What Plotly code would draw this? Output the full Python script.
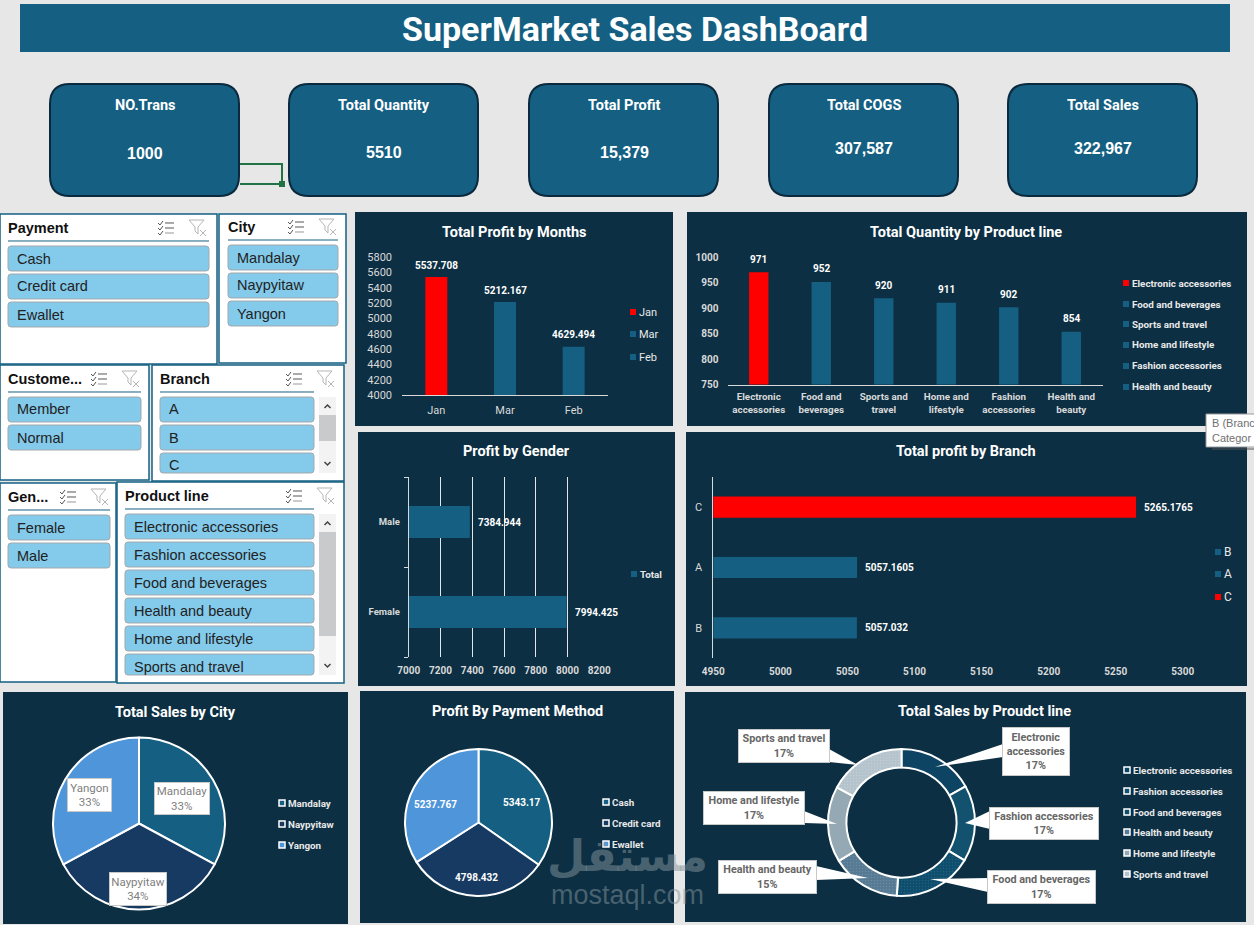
import plotly.graph_objects as go

W, H = 1254, 925
PAGE = "#e7e7e7"
PANEL = "#0c2f43"
BLUE = "#156082"
RED = "#ff0000"
AXIS = "#d9d9d9"
BTN = "#83caeb"
FONT = "Roboto"
SANS = "Liberation Sans"

KPI_TITLES = ["NO.Trans", "Total Quantity", "Total Profit", "Total COGS", "Total Sales"]
KPI_VALUES = ["1000", "5510", "15,379", "307,587", "322,967"]

PAYMENTS = ["Cash", "Credit card", "Ewallet"]
CITIES = ["Mandalay", "Naypyitaw", "Yangon"]
CUSTOMERS = ["Member", "Normal"]
BRANCH_LIST = ["A", "B", "C"]
GENDER_LIST = ["Female", "Male"]
PRODUCT_LIST = ["Electronic accessories", "Fashion accessories", "Food and beverages",
                "Health and beauty", "Home and lifestyle", "Sports and travel"]

MONTHS = ["Jan", "Mar", "Feb"]
MONTH_PROFIT = [5537.708, 5212.167, 4629.494]

QTY_LINES = ["Electronic accessories", "Food and beverages", "Sports and travel",
             "Home and lifestyle", "Fashion accessories", "Health and beauty"]
QTY_TICKS = ["Electronic<br>accessories", "Food and<br>beverages", "Sports and<br>travel",
             "Home and<br>lifestyle", "Fashion<br>accessories", "Health and<br>beauty"]
QTY_VALUES = [971, 952, 920, 911, 902, 854]

GENDERS = ["Female", "Male"]
GENDER_PROFIT = [7994.425, 7384.944]

BRANCHES = ["B", "A", "C"]
BRANCH_PROFIT = [5057.032, 5057.1605, 5265.1765]
BRANCH_LEGEND = ["B", "A", "C"]

CITY_SALES = [106198, 110569, 106200]
PAYMENT_PROFIT = [5343.17, 4798.432, 5237.767]
PRODUCT_SALES = [54338, 54306, 56145, 49194, 53862, 55123]

PIE_COLORS = ["#156082", "#163a62", "#4e95d9"]
DONUT_COLORS = ["#0d4463", "#12526f", "#0f4d6c", "#567a93", "#94a9b3", "#b4c3cc"]
DONUT_DOTS = ["#0d4463", "#12526f", "#215f7f", "#6d8ca1", "#94a9b3", "#c2ced5"]


def X(v):
    return v / W


def Y(v):
    return 1 - v / H


shapes = []
notes = []


def rect(x0, y0, x1, y1, fill, line=None, lw=1, layer="below"):
    shapes.append(dict(type="rect", xref="paper", yref="paper", x0=X(x0), x1=X(x1), y0=Y(y0), y1=Y(y1),
                       fillcolor=fill, line=dict(color=line or fill, width=lw if line else 0), layer=layer))


def path(points, line=None, lw=1, fill=None, closed=False, layer="below"):
    d = "M" + " L".join(f"{X(a):.5f},{Y(b):.5f}" for a, b in points) + (" Z" if closed else "")
    shapes.append(dict(type="path", xref="paper", yref="paper", path=d, fillcolor=fill,
                       line=dict(color=line or "rgba(0,0,0,0)", width=lw), layer=layer))


def rounded(x0, y0, x1, y1, r, fill, line, lw=1):
    p = (f"M{X(x0 + r):.5f},{Y(y0):.5f} L{X(x1 - r):.5f},{Y(y0):.5f} Q{X(x1):.5f},{Y(y0):.5f} {X(x1):.5f},{Y(y0 + r):.5f} "
         f"L{X(x1):.5f},{Y(y1 - r):.5f} Q{X(x1):.5f},{Y(y1):.5f} {X(x1 - r):.5f},{Y(y1):.5f} "
         f"L{X(x0 + r):.5f},{Y(y1):.5f} Q{X(x0):.5f},{Y(y1):.5f} {X(x0):.5f},{Y(y1 - r):.5f} "
         f"L{X(x0):.5f},{Y(y0 + r):.5f} Q{X(x0):.5f},{Y(y0):.5f} {X(x0 + r):.5f},{Y(y0):.5f} Z")
    shapes.append(dict(type="path", xref="paper", yref="paper", path=p, fillcolor=fill,
                       line=dict(color=line, width=lw), layer="below"))


def text(x, y, s, size=11, color="white", bold=False, anchor="center", family=FONT, **kw):
    if anchor == "left":
        x -= 2  # annotation box has a little padding
    notes.append(dict(xref="paper", yref="paper", x=X(x), y=Y(y), text=s, showarrow=False, xanchor=anchor,
                      yanchor="middle", font=dict(size=size, color=color, family=family,
                                                  weight=700 if bold else 400), **kw))


def icons(xc, xf, cy):
    top = cy - 8
    for i in range(3):
        ry = top + 3 + i * 5
        path([(xc, ry), (xc + 2, ry + 2), (xc + 5, ry - 2)], line="#555555", lw=1)
        path([(xc + 7, ry), (xc + 16, ry)], line="#555555" if i < 2 else "#999999", lw=1)
    path([(xf, top), (xf + 15, top), (xf + 9, top + 7), (xf + 9, top + 14), (xf + 6, top + 11), (xf + 6, top + 7)],
         line="#b5b5b5", lw=1, closed=True)
    path([(xf + 11, top + 10), (xf + 17, top + 16)], line="#b5b5b5", lw=1)
    path([(xf + 17, top + 10), (xf + 11, top + 16)], line="#b5b5b5", lw=1)


def scrollbar(x0, x1, y0, y1, t0, t1):
    rect(x0, y0, x1, y1, "#f3f3f3")
    rect(x0, t0, x1, t1, "#c9cacc")
    m = (x0 + x1) / 2
    path([(m - 3, y0 + 11), (m, y0 + 8), (m + 3, y0 + 11)], line="#444444", lw=1.5)
    path([(m - 3, y1 - 11), (m, y1 - 8), (m + 3, y1 - 11)], line="#444444", lw=1.5)


def slicer(box, title, items, left, right, line_y, clip, xc, xf):
    rect(*box, "white", line=BLUE, lw=1.5)
    text(left, line_y - 13, title, size=14.5, color="#111111", bold=True, anchor="left", family=SANS)
    path([(left, line_y), (right, line_y)], line=BLUE, lw=1)
    icons(xc, xf, line_y - 13)
    for i, item in enumerate(items):
        top = line_y + 5 + i * 28
        rounded(left, top, right, min(top + 25, clip), 3, BTN, "#a3a8ab", 1)
        text(left + 9, top + 12.5, item, size=14.5, color="#222222", anchor="left", family=SANS)


def legend(x, ys, names, colors, size=9.8, bold=True, ring=False):
    for ly, name, col in zip(ys, names, colors):
        if ring:
            rect(x, ly - 3, x + 6, ly + 3, col, line="white", lw=1.5, layer="above")
        else:
            rect(x, ly - 3, x + 6, ly + 3, col)
        text(x + 9, ly, name, size=size, color="#e8e8e8", bold=bold, anchor="left")


def bar_color(values):
    return [RED if v == max(values) else BLUE for v in values]


def axis_font(bold=True, size=10):
    return dict(family=FONT, size=size, color=AXIS, weight=700 if bold else 400)


# page furniture
rect(0, 0, W, H, PAGE)
rect(20, 4, 1230, 52, BLUE)
text(635, 29, "SuperMarket Sales DashBoard", size=34, bold=True)

path([(240, 164), (282, 164), (282, 184), (240, 184)], line="#217346", lw=2)
rect(279, 181, 285, 187, "#217346")
card_x = [50, 289, 529, 769, 1008]
value_y = [154, 153, 153, 148, 148]
for cx, vy, title, val in zip(card_x, value_y, KPI_TITLES, KPI_VALUES):
    rounded(cx, 84, cx + 189, 196, 20, BLUE, "#0b2a3d", 2)
    text(cx + 95, 105.5, title, size=14.5, bold=True)
    text(cx + 95, vy, val, size=16, bold=True, family=SANS)

# slicers
slicer((0, 214, 217, 364), "Payment", PAYMENTS, 8, 209, 241, 400, 158, 189)
slicer((219, 214, 346, 363), "City", CITIES, 228, 338, 240, 400, 288, 319)
slicer((0, 365, 149, 480), "Custome...", CUSTOMERS, 8, 141, 392, 480, 91, 122)
slicer((152, 365, 344, 481), "Branch", BRANCH_LIST, 160, 314, 392, 473, 286, 317)
scrollbar(319, 336, 397, 473, 415, 441)
slicer((0, 483, 116, 682), "Gen...", GENDER_LIST, 8, 110, 510, 682, 60, 91)
slicer((117, 482, 344, 683), "Product line", PRODUCT_LIST, 125, 314, 509, 675, 286, 317)
scrollbar(319, 336, 514, 675, 532, 636)

# chart panels
rect(355, 212, 673, 426, PANEL)
rect(687, 212, 1247, 426, PANEL)
rect(358, 432, 675, 686, PANEL)
rect(686, 432, 1247, 686, PANEL)
rect(3, 692, 348, 924, PANEL)
rect(360, 691, 674, 923, PANEL)
rect(685, 692, 1246, 922, PANEL)

text(514, 232, "Total Profit by Months", size=14.5, bold=True)
text(966, 232, "Total Quantity by Product line", size=14.5, bold=True)
text(516, 451, "Profit by Gender", size=14.5, bold=True)
text(966, 451, "Total profit by Branch", size=14.5, bold=True)
text(175, 712, "Total Sales by City", size=14.5, bold=True)
text(517, 711, "Profit By Payment Method", size=14.5, bold=True)
text(984, 711, "Total Sales by Proudct line", size=14.5, bold=True)

legend(630, [312, 334, 357], MONTHS, bar_color(MONTH_PROFIT), size=11, bold=False)
legend(1123, [283, 304, 324, 345, 366, 387], QTY_LINES, bar_color(QTY_VALUES))
legend(631, [574], ["Total"], [BLUE])
legend(1215, [552, 574, 597], BRANCH_LEGEND, [BLUE, BLUE, RED], size=12, bold=False)
legend(279, [803, 824, 845], CITIES, PIE_COLORS, ring=True)
legend(603, [802, 823, 844], PAYMENTS, PIE_COLORS, ring=True)
legend(1124, [770, 791, 812, 832, 853, 874], PRODUCT_LIST, DONUT_COLORS, ring=True)

fig = go.Figure()

fig.add_trace(go.Bar(x=MONTHS, y=MONTH_PROFIT, marker=dict(color=bar_color(MONTH_PROFIT), line_width=0), width=0.32,
                     xaxis="x", yaxis="y"))
fig.add_trace(go.Bar(x=QTY_LINES, y=QTY_VALUES, marker=dict(color=bar_color(QTY_VALUES), line_width=0), width=0.31,
                     xaxis="x2", yaxis="y2"))
fig.add_trace(go.Bar(y=GENDERS, x=GENDER_PROFIT, orientation="h", marker=dict(color=BLUE, line_width=0), width=0.355,
                     xaxis="x3", yaxis="y3"))
fig.add_trace(go.Bar(y=BRANCHES, x=BRANCH_PROFIT, orientation="h",
                     marker=dict(color=bar_color(BRANCH_PROFIT), line_width=0),
                     width=0.35, xaxis="x4", yaxis="y4"))


def pie_domain(cx, cy, r):
    return dict(x=[X(cx - r), X(cx + r)], y=[Y(cy + r), Y(cy - r)])


fig.add_trace(go.Pie(labels=CITIES, values=CITY_SALES, domain=pie_domain(139, 823.5, 86), sort=False,
                     direction="clockwise", rotation=0, textinfo="none",
                     marker=dict(colors=PIE_COLORS, line=dict(color="white", width=2))))
fig.add_trace(go.Pie(labels=PAYMENTS, values=PAYMENT_PROFIT, domain=pie_domain(478.5, 822.5, 73.5), sort=False,
                     direction="clockwise", rotation=0, textinfo="none",
                     marker=dict(colors=PIE_COLORS, line=dict(color="white", width=2))))
fig.add_trace(go.Pie(labels=PRODUCT_LIST, values=PRODUCT_SALES, domain=pie_domain(901.5, 822.5, 73.5), sort=False,
                     hole=0.75, direction="clockwise", rotation=0, textinfo="none",
                     marker=dict(colors=DONUT_COLORS, line=dict(color="white", width=2),
                                 pattern=dict(shape=["", "", ".", ".", "", "."], bgcolor=DONUT_COLORS,
                                              fgcolor=DONUT_DOTS, size=3, solidity=0.2))))

# data labels, anchored on the axes
for cat, val in zip(MONTHS, MONTH_PROFIT):
    notes.append(dict(xref="x", yref="y", x=cat, y=val, yshift=12, text=f"{val}", showarrow=False,
                      font=dict(family=FONT, size=10, color="white", weight=700)))
for cat, val in zip(QTY_LINES, QTY_VALUES):
    notes.append(dict(xref="x2", yref="y2", x=cat, y=val, yshift=13, text=f"{val}", showarrow=False,
                      font=dict(family=FONT, size=10, color="white", weight=700)))
for cat, val in zip(GENDERS, GENDER_PROFIT):
    notes.append(dict(xref="x3", yref="y3", x=val, y=cat, xshift=6, xanchor="left", text=f"{val}", showarrow=False,
                      font=dict(family=FONT, size=10, color="white", weight=700)))
for cat, val in zip(BRANCHES, BRANCH_PROFIT):
    notes.append(dict(xref="x4", yref="y4", x=val, y=cat, xshift=6, xanchor="left", text=f"{val}", showarrow=False,
                      font=dict(family=FONT, size=10, color="white", weight=700)))

for (lx, ly), val in zip([(522, 802), (476, 877), (435, 804)], PAYMENT_PROFIT):
    text(lx, ly, f"{val}", size=10, bold=True)


def callout(box, label, tip=None, base=None, size=11, bold=False, color="#7f7f7f"):
    x0, y0, x1, y1 = box
    if tip:
        path([base[0], tip, base[1]], fill="white", closed=True, layer="above")
    notes.append(dict(xref="paper", yref="paper", x=X((x0 + x1) / 2), y=Y((y0 + y1) / 2), text=label, showarrow=False,
                      xanchor="center", yanchor="middle", width=x1 - x0 - 2, height=y1 - y0 - 2, bgcolor="white",
                      bordercolor="#c8c8c8", borderwidth=1, borderpad=0,
                      font=dict(family=FONT, size=size, color=color, weight=700 if bold else 400)))


def pct(values):
    return [f"{round(v / sum(values) * 100)}%" for v in values]


city_boxes = [(154, 782, 210, 815), (109, 872, 167, 906), (67, 778, 112, 812)]
for box, name, share in zip(city_boxes, CITIES, pct(CITY_SALES)):
    callout(box, f"{name}<br>{share}", size=11.5)

donut_boxes = [(1002, 727, 1070, 776), (989, 807, 1099, 840), (987, 870, 1096, 904),
               (718, 860, 817, 894), (703, 791, 805, 825), (738, 729, 830, 763)]
donut_tips = [(935, 767), (965, 823), (930, 879), (868, 878), (837, 824), (858, 765)]
donut_bases = [[(1003, 744), (1003, 757)], [(990, 811), (990, 829)], [(988, 878), (988, 892)],
               [(816, 866), (816, 880)], [(804, 811), (804, 823)], [(829, 749), (829, 762)]]
donut_names = ["Electronic<br>accessories", "Fashion accessories", "Food and beverages",
               "Health and beauty", "Home and lifestyle", "Sports and travel"]
for box, name, share, tip, base in zip(donut_boxes, donut_names, pct(PRODUCT_SALES), donut_tips, donut_bases):
    callout(box, f"{name}<br>{share}", tip, base, size=10.8, bold=True, color="#666666")

# hover tooltip caught in the screenshot
path([(1212, 449), (1254, 449)], line="#555555", lw=1, layer="above")
rect(1206, 414, 1256, 447, "white", line="#9a9a9a", lw=1, layer="above")
text(1212, 423, "B (Branc", size=11, color="#707070", anchor="left", family=SANS)
text(1212, 438, "Categor", size=11, color="#707070", anchor="left", family=SANS)

# watermark
text(627, 855, "مستقل", size=44, color="rgba(135,150,158,0.5)", bold=True, family="DejaVu Sans")
text(627, 895, "mostaql.com", size=27, color="rgba(135,150,158,0.5)", family=SANS)

fig.update_layout(
    template="none",
    width=W, height=H, margin=dict(l=0, r=0, t=0, b=0, autoexpand=False), showlegend=False,
    paper_bgcolor=PAGE, plot_bgcolor="rgba(0,0,0,0)", barmode="overlay", shapes=shapes, annotations=notes,
    xaxis=dict(domain=[X(402), X(608)], anchor="y", showgrid=False, showline=True, linecolor=AXIS, linewidth=1,
               ticks="", ticklabelstandoff=5, tickfont=axis_font(False, 11)),
    yaxis=dict(domain=[Y(395), Y(257)], anchor="x", range=[4000, 5800], dtick=200, showgrid=False, zeroline=False,
               ticks="", ticklabelstandoff=9, tickfont=axis_font(False, 11)),
    xaxis2=dict(domain=[X(727.5), X(1102.5)], anchor="y2", showgrid=False, showline=True, linecolor=AXIS, linewidth=1,
                ticks="", ticklabelstandoff=3, tickfont=axis_font(True, 9.8), tickangle=0,
                tickmode="array", tickvals=QTY_LINES, ticktext=QTY_TICKS),
    yaxis2=dict(domain=[Y(384.5), Y(257.5)], anchor="x2", range=[750, 1000], dtick=50, showgrid=False, zeroline=False,
                ticks="", ticklabelstandoff=8, tickfont=axis_font(True, 10)),
    xaxis3=dict(domain=[X(408.7), X(599.3)], anchor="y3", range=[7000, 8200], dtick=200, showgrid=True,
                gridcolor="#e6e6e6", gridwidth=1, zeroline=False, ticks="", ticklabelstandoff=6,
                tickfont=axis_font(True, 10)),
    yaxis3=dict(domain=[Y(657), Y(477)], anchor="x3", showgrid=False, showline=True, linecolor=AXIS, linewidth=1,
                ticks="outside", ticklen=4, tickcolor=AXIS, tickson="boundaries", ticklabelstandoff=6,
                tickfont=axis_font(True, 9.5)),
    xaxis4=dict(domain=[X(713.3), X(1182.8)], anchor="y4", range=[4950, 5300], dtick=50, showgrid=False,
                zeroline=False, ticks="", ticklabelstandoff=6, tickfont=axis_font(True, 10)),
    yaxis4=dict(domain=[Y(658), Y(477)], anchor="x4", showgrid=False, showline=True, linecolor=AXIS, linewidth=1,
                ticks="", ticklabelstandoff=8, tickfont=axis_font(False, 11)),
)

fig.write_html("out.html", config={"displayModeBar": False},
               post_script="document.body.style.margin='0';document.body.style.overflow='hidden';")
